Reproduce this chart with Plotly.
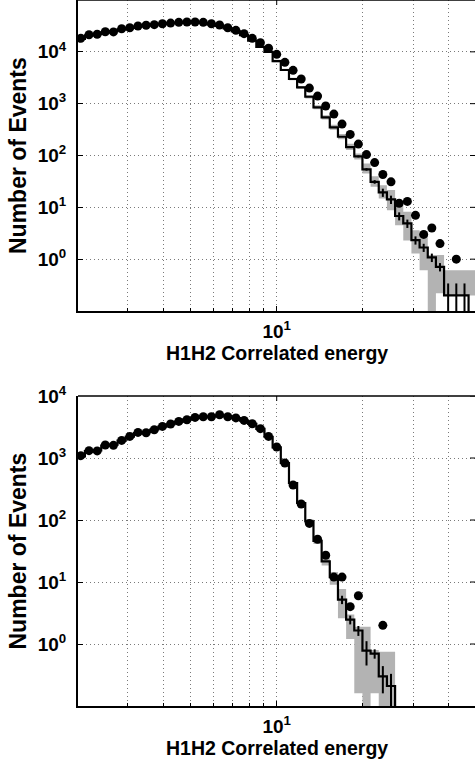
import math
import plotly.graph_objects as go

# ---------------- data ----------------
energy = [2.062, 2.203, 2.353, 2.512, 2.683, 2.866, 3.060, 3.269, 3.491, 3.728,
          3.981, 4.252, 4.542, 4.850, 5.179, 5.532, 5.909, 6.310, 6.740, 7.197,
          7.687, 8.211, 8.768, 9.364, 10.00, 10.68, 11.41, 12.18, 13.01, 13.90,
          14.84, 15.85, 16.93, 18.08, 19.31, 20.62, 22.02, 23.52, 25.12, 26.83,
          28.66, 30.60, 32.69, 34.91, 37.28, 39.81, 42.52, 45.42, 48.50]

top_data = [18200, 21400, 21800, 24400, 24200, 27900, 29200, 31500, 32500, 33400,
            34900, 35900, 37100, 37600, 37600, 37100, 34900, 32900, 29200, 26000,
            22400, 18200, 15000, 11700, 8950, 6270, 4400, 2990, 2000, 1400,
            900, 630, 404, 255, 166, 104, 73, 43, 31, 12,
            13, 7, 3, 4, 2, 0, 1, 0, 0]
top_mc = [17800, 20800, 22000, 23800, 25000, 27200, 29000, 30800, 32300, 33500,
          34600, 35700, 36500, 37000, 36800, 35800, 33800, 31600, 28300, 24800,
          21000, 16500, 12500, 10000, 6640, 4460, 2990, 2070, 1360, 850,
          543, 348, 230, 145, 96, 54, 31, 19.4, 14.2, 6.8,
          4.9, 2.33, 1.68, 1.08, 0.71, 0.2, 0.2, 0.2, 0]
top_band_lo = [None] * 24 + [6300, 4250, 2840, 1950, 1260, 780, 495, 315, 205, 128,
                            84, 45, 25, 14.8, 8.8, 4.5, 2.3, 1.29, 0.61, 0.01,
                            0.22, 0.2, 0.2, 0.2, 0.2]
top_band_hi = [None] * 24 + [7000, 4700, 3150, 2200, 1470, 930, 600, 390, 260, 168,
                            109, 70, 40, 26.8, 21.5, 11, 8.2, 3.6, 3.1, 1.2,
                            1.2, 0.61, 0.61, 0.61, 0.61]
top_mc_err = [None] * 34 + [4, 3, 2.5, 3.5, 2.6, 1.2, 0.9, 0.42, 0.3, 0.2,
                            0.13, 0.14, 0.14, 0.14, None]

bot_data = [1090, 1312, 1300, 1622, 1600, 1922, 2230, 2587, 2550, 2858,
            3234, 3533, 3892, 4146, 4518, 4636, 4636, 4990, 4636, 4430,
            4040, 3573, 2970, 2230, 1504, 830, 367, 181, 88, 49,
            27, 12, 12, 4, 6, 0, 0, 2, 0, 0,
            0, 0, 0, 0, 0, 0, 0, 0, 0]
bot_mc = [1060, 1290, 1330, 1580, 1640, 1900, 2200, 2520, 2600, 2880,
          3200, 3500, 3850, 4150, 4450, 4600, 4680, 4850, 4700, 4400,
          4000, 3550, 2950, 2200, 1480, 830, 395, 188, 95, 46,
          21.5, 12, 5.2, 2.47, 1.65, 0.78, 0.7, 0.3, 0.21, 0,
          0, 0, 0, 0, 0, 0, 0, 0, 0]
bot_band_lo = [None] * 27 + [180, 88, 41, 18.5, 9, 2.6, 1.2, 0.16, 0.01, 0.16,
                            0.01, 0.01] + [None] * 10
bot_band_hi = [None] * 27 + [197, 103, 51, 25, 14.5, 7.7, 3.0, 1.9, 1.9, 0.8,
                            0.75, 0.75] + [None] * 10
bot_mc_err = [None] * 31 + [1.2, 0.8, 0.4, 0.3, 0.33, 0.12, 0.14, 0.12] + [None] * 10

x_title = "H1H2 Correlated energy"
y_title = "Number of Events"
top_yticks = [1, 10, 100, 1000, 10000]
bot_yticks = [1, 10, 100, 1000, 10000]

# ---------------- helpers ----------------
FLOOR = 1e-3


def bin_edges(c):
    e = [math.sqrt(c[i - 1] * c[i]) for i in range(1, len(c))]
    return [c[0] * c[0] / e[0]] + e + [c[-1] * c[-1] / e[-1]]


EDGES = bin_edges(energy)


def stairs(vals):
    xs, ys = [], []
    for i, v in enumerate(vals):
        vv = v if v > 0 else FLOOR
        xs += [EDGES[i], EDGES[i + 1]]
        ys += [vv, vv]
    return xs, ys


def band(lo, hi):
    idx = [i for i in range(len(lo)) if lo[i] is not None]
    xs, ys = [], []
    for i in idx:
        xs += [EDGES[i], EDGES[i + 1]]
        ys += [hi[i], hi[i]]
    for i in reversed(idx):
        xs += [EDGES[i + 1], EDGES[i]]
        ys += [lo[i], lo[i]]
    return xs, ys


FONT = "Liberation Sans, Arial, Helvetica, sans-serif"
fig = go.Figure()


def add_panel(data, mc, blo, bhi, err, xa, ya):
    bx, by = band(blo, bhi)
    fig.add_trace(go.Scatter(x=bx, y=by, mode="lines", fill="toself",
                             fillcolor="#b3b3b3", line=dict(width=0),
                             xaxis=xa, yaxis=ya, showlegend=False, hoverinfo="skip"))
    sx, sy = stairs(mc)
    fig.add_trace(go.Scatter(x=sx, y=sy, mode="lines",
                             line=dict(color="black", width=2.2),
                             xaxis=xa, yaxis=ya, showlegend=False))
    ex = [energy[i] for i in range(len(err)) if err[i] is not None]
    ey = [mc[i] for i in range(len(err)) if err[i] is not None]
    ee = [err[i] for i in range(len(err)) if err[i] is not None]
    fig.add_trace(go.Scatter(x=ex, y=ey, mode="markers",
                             marker=dict(size=1, color="rgba(0,0,0,0)"),
                             error_y=dict(type="data", array=ee, arrayminus=ee,
                                          symmetric=False, width=0, thickness=2,
                                          color="black"),
                             xaxis=xa, yaxis=ya, showlegend=False))
    dx = [energy[i] for i in range(len(data)) if data[i] > 0]
    dy = [data[i] for i in range(len(data)) if data[i] > 0]
    fig.add_trace(go.Scatter(x=dx, y=dy, mode="markers",
                             marker=dict(size=9, color="black"),
                             xaxis=xa, yaxis=ya, showlegend=False))


add_panel(top_data, top_mc, top_band_lo, top_band_hi, top_mc_err, "x", "y")
add_panel(bot_data, bot_mc, bot_band_lo, bot_band_hi, bot_mc_err, "x2", "y2")

W, H = 475, 762
L = 78
GRID = dict(showgrid=True, gridcolor="#7a7a7a", gridwidth=1, griddash="1px,3px")
TICKFONT = dict(family=FONT, size=19, color="black", weight="bold")


def xaxis(anchor):
    return dict(type="log", range=[0.3045, 1.694], domain=[0, 1], anchor=anchor,
                automargin=False,
                tickvals=[10], ticktext=["10<sup>1</sup>"], ticks="inside",
                ticklen=5, tickwidth=1, tickcolor="black",
                minor=dict(tickmode="array", tickvals=[3, 4, 5, 6, 7, 8, 9, 20, 30, 40],
                           ticks="inside", ticklen=3, tickcolor="black", **GRID),
                showline=True, linecolor="black", linewidth=1.5, zeroline=False,
                tickfont=TICKFONT, ticklabelstandoff=2, **GRID)


def yaxis(anchor, rng, dom, vals):
    return dict(type="log", range=rng, domain=dom, anchor=anchor,
                automargin=False,
                tickvals=vals,
                ticktext=["10<sup>%d</sup>" % round(math.log10(v)) for v in vals],
                ticks="inside", ticklen=5, tickwidth=1, tickcolor="black",
                showline=True, linecolor="black", linewidth=2, zeroline=False,
                tickfont=TICKFONT, ticklabelstandoff=6, **GRID)


top_dom = [1 - 311 / H, 1.0]
bot_dom = [1 - 706 / H, 1 - 396 / H]

fig.update_layout(
    width=W, height=H,
    margin=dict(l=L, r=0, t=0, b=0, autoexpand=False),
    paper_bgcolor="white", plot_bgcolor="white",
    xaxis=xaxis("y"),
    yaxis=yaxis("x", [-1, 5], top_dom, top_yticks),
    xaxis2=xaxis("y2"),
    yaxis2=yaxis("x2", [-1, 4], bot_dom, bot_yticks),
    showlegend=False,
)

shapes = []
tick_w = 5 / (W - L)
for yref, xref, ticks in (("y domain", "x", top_yticks), ("y2 domain", "x2", bot_yticks)):
    # top border of the box
    shapes.append(dict(type="line", xref="paper", yref=yref, x0=0, x1=1, y0=1, y1=1,
                       line=dict(color="black", width=1.5)))
    # major tick at 10 on the top border
    shapes.append(dict(type="line", xref=xref, yref=yref, x0=10, x1=10, y0=1, y1=0.984,
                       line=dict(color="black", width=1)))
for yr, ticks in (("y", top_yticks), ("y2", bot_yticks)):
    # mirrored y ticks on the right edge
    for v in ticks:
        shapes.append(dict(type="line", xref="paper", yref=yr, x0=1 - tick_w, x1=1,
                           y0=v, y1=v, line=dict(color="black", width=1)))
fig.update_layout(shapes=shapes)

ann = []
for yc in (155.5, 551):
    ann.append(dict(text=y_title, textangle=-90, xref="paper", yref="paper",
                    x=(17.5 - L) / (W - L), y=1 - yc / H,
                    xanchor="center", yanchor="middle", showarrow=False,
                    font=dict(family=FONT, size=23, color="black", weight="bold")))
for yc in (352.5, 748):
    ann.append(dict(text=x_title, xref="paper", yref="paper",
                    x=(276.7 - L) / (W - L), y=1 - yc / H,
                    xanchor="center", yanchor="middle", showarrow=False,
                    font=dict(family=FONT, size=19.5, color="black", weight="bold")))
fig.update_layout(annotations=ann)

fig.write_html("out.html",
               config={"displayModeBar": False},
               post_script="document.body.style.margin='0';document.body.style.padding='0';")
